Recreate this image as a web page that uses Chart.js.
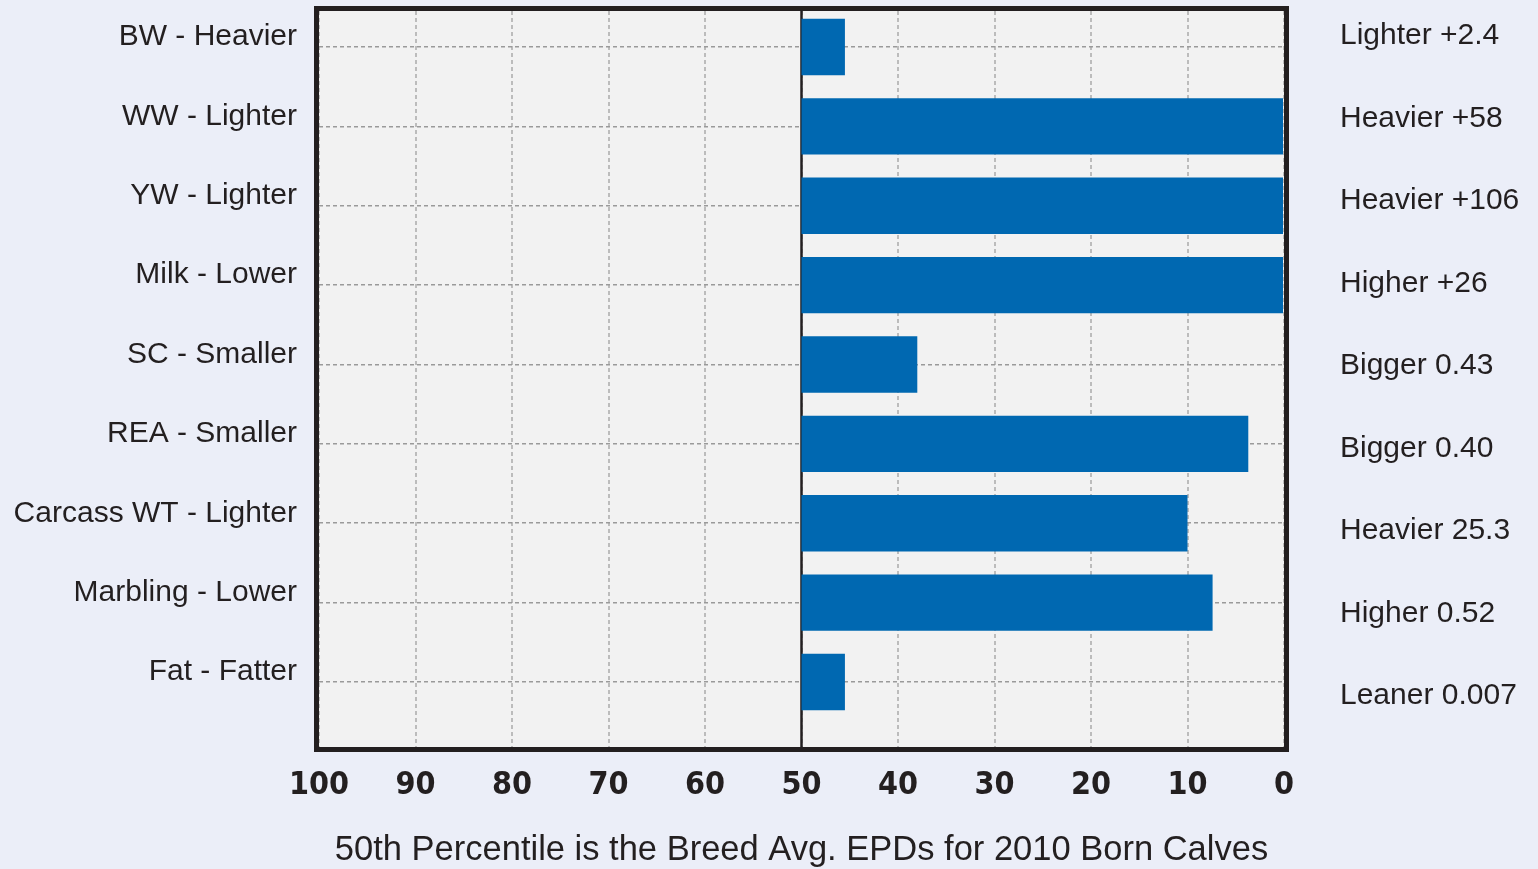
<!DOCTYPE html>
<html>
<head>
<meta charset="utf-8">
<script src="https://cdn.jsdelivr.net/npm/chart.js@4"></script>
<style>
  body { margin: 0; background: #ebeef8; }
  #wrap { width: 1538px; height: 869px; }
</style>
</head>
<body>
<div id="wrap"><canvas id="epdChart" width="1538" height="869"></canvas></div>
<script>
const traits = [
  "BW - Heavier", "WW - Lighter", "YW - Lighter", "Milk - Lower", "SC - Smaller",
  "REA - Smaller", "Carcass WT - Lighter", "Marbling - Lower", "Fat - Fatter"
];
const epdLabels = [
  "Lighter +2.4", "Heavier +58", "Heavier +106", "Higher +26", "Bigger 0.43",
  "Bigger 0.40", "Heavier 25.3", "Higher 0.52", "Leaner 0.007"
];
// percentile reached by each bar (bars start at the breed average, 50)
const percentiles = [45.5, 0, 0, 0, 38, 3.7, 10, 7.4, 45.5];
const breedAvg = 50;
const xTicks = [100, 90, 80, 70, 60, 50, 40, 30, 20, 10, 0];

const textColor = "#231f20";
const barColor = "#0068b1";

// keep tick padding from pushing the plot area around
function noEdgePadding(scale) {
  scale.paddingTop = 0;
  scale.paddingBottom = 0;
  scale.paddingLeft = 0;
  scale.paddingRight = 0;
}

const framePlugin = {
  id: "frame",
  beforeDraw(chart) {
    const { ctx, chartArea: a } = chart;
    ctx.save();
    ctx.fillStyle = "#f2f2f2";
    ctx.fillRect(a.left, a.top, a.right - a.left, a.bottom - a.top);
    ctx.restore();
  },
  beforeDatasetsDraw(chart) {
    const { ctx, chartArea: a, scales } = chart;
    const x = scales.x.getPixelForValue(breedAvg);
    ctx.save();
    ctx.strokeStyle = textColor;
    ctx.lineWidth = 2.5;
    ctx.beginPath();
    ctx.moveTo(x, a.top);
    ctx.lineTo(x, a.bottom);
    ctx.stroke();
    ctx.restore();
  },
  afterDraw(chart) {
    const { ctx, chartArea: a } = chart;
    ctx.save();
    ctx.strokeStyle = textColor;
    ctx.lineWidth = 5;
    ctx.strokeRect(a.left - 2.5, a.top - 2.5, a.right - a.left + 5, a.bottom - a.top + 5);
    ctx.restore();
  }
};

const ctx = document.getElementById("epdChart").getContext("2d");
const epdChart = new Chart(ctx, {
  type: "bar",
  data: {
    datasets: [
      {
        data: percentiles.map((v, i) => ({ y: i, x: [breedAvg, v] })),
        backgroundColor: barColor,
        borderWidth: 0,
        categoryPercentage: 1,
        barPercentage: 0.71,
      },
    ],
  },
  options: {
    responsive: false,
    animation: false,
    indexAxis: "y",
    layout: { padding: { top: 11, left: 0, right: 0, bottom: 0 } },
    plugins: {
      legend: { display: false },
      tooltip: { enabled: false },
    },
    scales: {
      x: {
        type: "linear",
        min: 0,
        max: 100,
        reverse: true,
        afterFit: (scale) => { scale.height = 122; noEdgePadding(scale); },
        afterBuildTicks: (scale) => { scale.ticks = xTicks.map((v) => ({ value: v })); },
        border: { display: false, dash: [4, 3] },
        grid: { color: "#bcbcbc", lineWidth: 2, drawTicks: false },
        ticks: {
          padding: 19,
          color: textColor,
          font: { family: "'DejaVu Sans Condensed', 'Liberation Sans', sans-serif", size: 32, weight: "bold" },
        },
        title: {
          display: true,
          text: "50th Percentile is the Breed Avg. EPDs for 2010 Born Calves",
          color: textColor,
          padding: { top: 0, bottom: 0 },
          font: { family: "'Liberation Sans', Arial, sans-serif", size: 34.5, lineHeight: 1.1 },
        },
      },
      y: {
        type: "linear",
        position: "left",
        min: -0.4535,
        max: 8.819,
        reverse: true,
        offset: false,
        afterFit: (scale) => { scale.width = 319; noEdgePadding(scale); },
        afterBuildTicks: (scale) => { scale.ticks = traits.map((t, i) => ({ value: i })); },
        border: { display: false, dash: [4, 3] },
        grid: { offset: false, color: "#9a9a9a", lineWidth: 1.5, drawTicks: false },
        ticks: {
          autoSkip: false,
          padding: 22,
          labelOffset: -10,
          color: textColor,
          font: { family: "'Liberation Sans', Arial, sans-serif", size: 30 },
          callback: (value) => traits[value],
        },
      },
      y2: {
        type: "linear",
        position: "right",
        min: -0.303,
        max: 8.618,
        reverse: true,
        offset: false,
        afterFit: (scale) => { scale.width = 254; noEdgePadding(scale); },
        afterBuildTicks: (scale) => { scale.ticks = epdLabels.map((t, i) => ({ value: i })); },
        border: { display: false },
        grid: { display: false, offset: false, drawTicks: false },
        ticks: {
          autoSkip: false,
          padding: 56,
          color: textColor,
          font: { family: "'Liberation Sans', Arial, sans-serif", size: 30 },
          callback: (value) => epdLabels[value],
        },
      },
    },
  },
  plugins: [framePlugin],
});
</script>
</body>
</html>
